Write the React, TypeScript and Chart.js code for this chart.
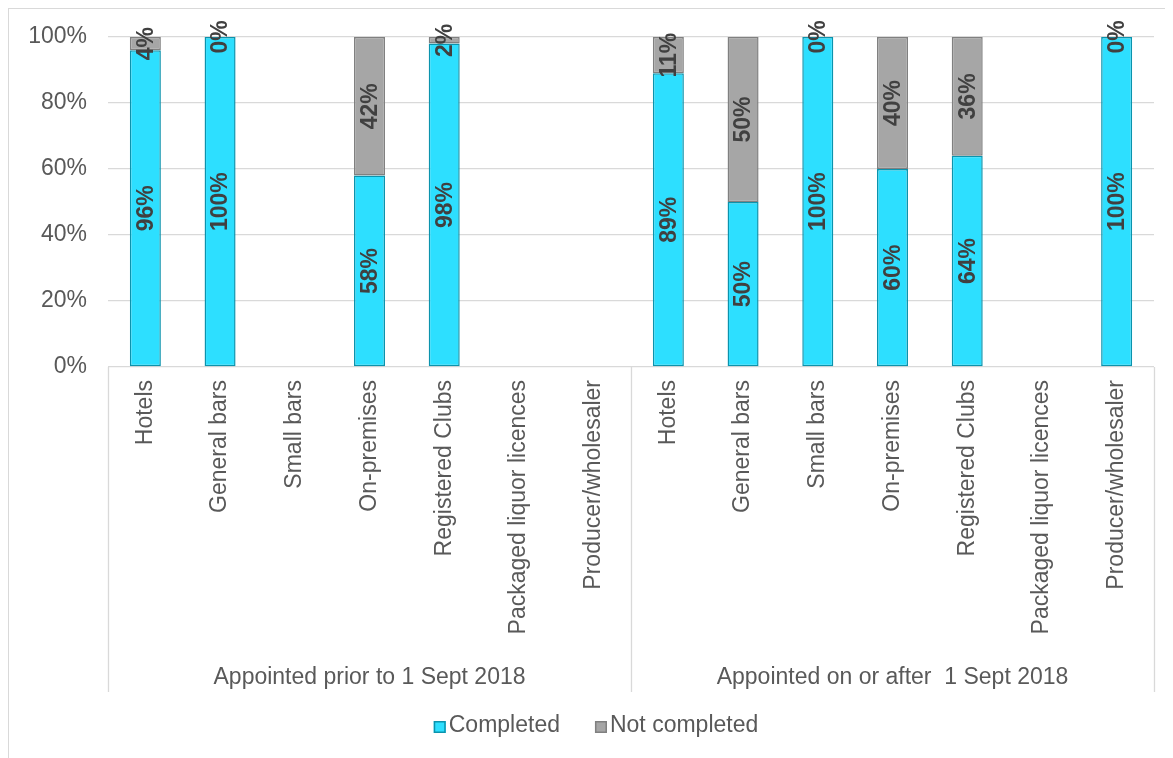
import React, { useEffect, useRef } from "react";
import { Chart, registerables } from "chart.js";

Chart.register(...registerables);

const categories = [
  "Hotels",
  "General bars",
  "Small bars",
  "On-premises",
  "Registered Clubs",
  "Packaged liquor licences",
  "Producer/wholesaler",
];
const groups = ["Appointed prior to 1 Sept 2018", "Appointed on or after  1 Sept 2018"];
const completedPrior = [96, 100, null, 58, 98, null, null];
const notCompletedPrior = [4, 0, null, 42, 2, null, null];
const completedAfter = [89, 50, 100, 60, 64, null, 100];
const notCompletedAfter = [11, 50, 0, 40, 36, null, 0];
const seriesNames = ["Completed", "Not completed"];
const yMin = 0;
const yMax = 100;
const yStep = 20;

const FONT = "'Liberation Sans', Arial, sans-serif";
const TEXT = "#595959";
const LINE = "#d9d9d9";
const CYAN = "#2ddfff";
const CYAN_B = "#0b93ad";
const GREY = "#a6a6a6";
const GREY_B = "#808080";

const groupPlugin = {
  id: "groupPlugin",
  afterDraw(chart: any) {
    const ctx = chart.ctx;
    const x = chart.scales.x;
    const area = chart.chartArea;
    const n = categories.length;
    const mid = (x.getPixelForValue(n - 1) + x.getPixelForValue(n)) / 2;
    const bottom = area.bottom + 325;
    ctx.save();
    ctx.strokeStyle = LINE;
    ctx.lineWidth = 1.3;
    [area.left, mid, area.right].forEach((px) => {
      ctx.beginPath();
      ctx.moveTo(Math.round(px) + 0.5, area.bottom);
      ctx.lineTo(Math.round(px) + 0.5, bottom);
      ctx.stroke();
    });
    ctx.fillStyle = TEXT;
    ctx.font = `23px ${FONT}`;
    ctx.textAlign = "center";
    ctx.textBaseline = "middle";
    const ly = area.bottom + 311;
    ctx.fillText(groups[0], (area.left + mid) / 2, ly);
    ctx.fillText(groups[1], (mid + area.right) / 2, ly);

    // legend
    const box = 12;
    const gapText = 3;
    const gapItems = 35;
    const w0 = ctx.measureText(seriesNames[0]).width;
    const w1 = ctx.measureText(seriesNames[1]).width;
    const total = box + gapText + w0 + gapItems + box + gapText + w1;
    let lx = chart.width / 2 + 5 - total / 2;
    const legY = bottom + 35;
    const items = [
      { name: seriesNames[0], fill: CYAN, stroke: CYAN_B, w: w0 },
      { name: seriesNames[1], fill: GREY, stroke: GREY_B, w: w1 },
    ];
    items.forEach((it) => {
      ctx.fillStyle = it.fill;
      ctx.fillRect(lx, legY - box / 2, box, box);
      ctx.strokeStyle = it.stroke;
      ctx.lineWidth = 1.5;
      ctx.strokeRect(lx + 0.75, legY - box / 2 + 0.75, box - 1.5, box - 1.5);
      ctx.fillStyle = TEXT;
      ctx.textAlign = "left";
      ctx.fillText(it.name, lx + box + gapText, legY - 1);
      lx += box + gapText + it.w + gapItems;
    });
    ctx.restore();
  },
};

const labelPlugin = {
  id: "labelPlugin",
  afterDatasetsDraw(chart: any) {
    const ctx = chart.ctx;
    ctx.save();
    ctx.font = `bold 23px ${FONT}`;
    ctx.fillStyle = "#404040";
    ctx.textAlign = "center";
    ctx.textBaseline = "middle";
    chart.data.datasets.forEach((ds: any, di: number) => {
      const meta = chart.getDatasetMeta(di);
      meta.data.forEach((bar: any, i: number) => {
        const v = ds.data[i];
        if (v === null || v === undefined) return;
        const cy = (bar.y + bar.base) / 2;
        ctx.save();
        ctx.translate(bar.x, cy);
        ctx.rotate(-Math.PI / 2);
        ctx.fillText(`${v}%`, 0, 1);
        ctx.restore();
      });
    });
    ctx.restore();
  },
};

export default function App() {
  const ref = useRef<HTMLCanvasElement>(null);
  useEffect(() => {
    if (!ref.current) return;
    const chart = new Chart(ref.current, {
      type: "bar",
      data: {
        labels: [...categories, ...categories],
        datasets: [
          {
            label: seriesNames[0],
            data: [...completedPrior, ...completedAfter],
            backgroundColor: CYAN,
            borderColor: CYAN_B,
            borderWidth: 1.5,
            borderSkipped: false,
            categoryPercentage: 1,
            barPercentage: 0.415,
          },
          {
            label: seriesNames[1],
            data: [...notCompletedPrior, ...notCompletedAfter],
            backgroundColor: GREY,
            borderColor: GREY_B,
            borderWidth: 1.5,
            borderSkipped: false,
            categoryPercentage: 1,
            barPercentage: 0.415,
          },
        ],
      },
      options: {
        responsive: false,
        animation: false,
        layout: { padding: { left: 0, right: 19, top: 28, bottom: 66 } },
        plugins: { legend: { display: false }, tooltip: { enabled: false } },
        scales: {
          x: {
            stacked: true,
            grid: { display: false },
            border: { display: false },
            ticks: {
              autoSkip: false,
              minRotation: 90,
              maxRotation: 90,
              padding: 5,
              color: TEXT,
              font: { family: FONT, size: 23 },
            },
            afterFit: (s: any) => {
              s.height = 325;
            },
          },
          y: {
            stacked: true,
            min: yMin,
            max: yMax,
            grid: { color: LINE, lineWidth: 1.3, drawTicks: false },
            border: { display: false },
            ticks: {
              stepSize: yStep,
              padding: 21,
              color: TEXT,
              font: { family: FONT, size: 23 },
              callback: (v: any) => `${v}%`,
            },
            afterFit: (s: any) => {
              s.width = 99;
              s.paddingTop = 0;
              s.paddingBottom = 0;
            },
          },
        },
      },
      plugins: [labelPlugin, groupPlugin],
    });
    return () => chart.destroy();
  }, []);
  return (
    <div
      style={{
        width: 1165,
        height: 750,
        boxSizing: "border-box",
        borderTop: `1px solid ${LINE}`,
        borderLeft: `1px solid ${LINE}`,
        background: "#fff",
        overflow: "hidden",
      }}
    >
      <canvas ref={ref} width={1164} height={749} style={{ display: "block" }} />
    </div>
  );
}
